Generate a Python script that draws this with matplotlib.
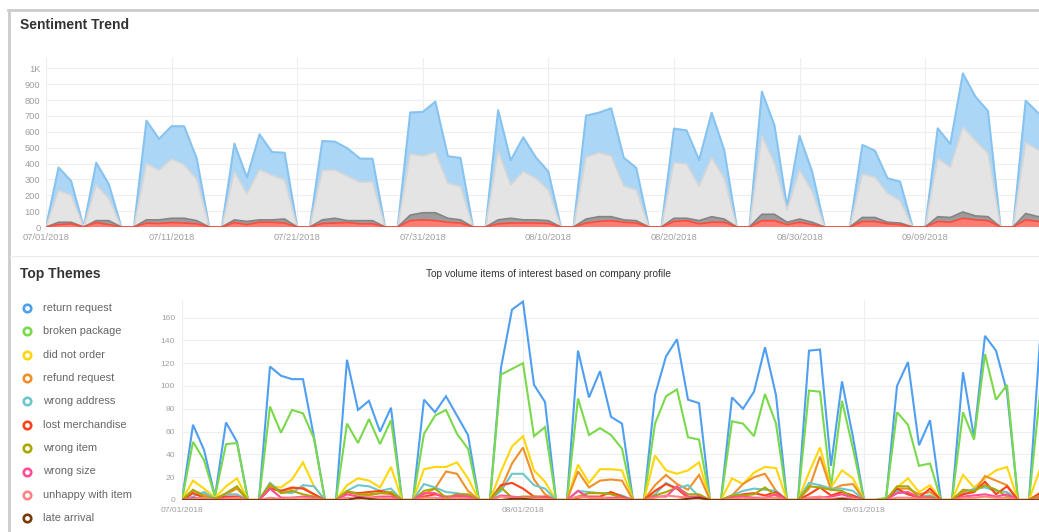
import matplotlib
matplotlib.use("Agg")
import matplotlib.pyplot as plt
import numpy as np
import pandas as pd
from matplotlib.lines import Line2D

plt.rcParams['font.family'] = ['Liberation Sans', 'DejaVu Sans']

# ---------------- Data: Sentiment Trend (stacked components, daily from 07/01/2018) ----------------
trend_start = "2018-07-01"
negative = [0, 15, 20, 0, 28, 15, 0,
            0, 25, 22, 28, 25, 20, 0,
            0, 28, 15, 30, 30, 25, 0,
            0, 22, 25, 28, 20, 20, 0,
            0, 40, 45, 40, 30, 25, 0,
            0, 20, 25, 25, 25, 22, 0,
            0, 25, 35, 40, 30, 25, 0,
            0, 35, 40, 20, 30, 30, 0,
            0, 40, 40, 15, 30, 15, 0,
            0, 0, 35, 35, 20, 15, 0,
            0, 35, 30, 55, 45, 40, 0,
            0, 45, 35, 30]
mixed = [0, 15, 10, 0, 12, 25, 0,
         0, 20, 23, 27, 30, 20, 0,
         0, 17, 20, 15, 15, 25, 0,
         0, 23, 30, 12, 20, 20, 0,
         0, 35, 45, 50, 25, 20, 0,
         0, 25, 30, 20, 20, 18, 0,
         0, 25, 30, 25, 15, 15, 0,
         0, 20, 15, 20, 35, 20, 0,
         0, 40, 40, 15, 20, 15, 0,
         0, 0, 25, 25, 10, 10, 0,
         0, 30, 30, 40, 25, 25, 0,
         0, 40, 30, 30]
neutral = [0, 200, 170, 0, 225, 140, 0,
           0, 355, 312, 373, 336, 260, 0,
           0, 304, 173, 316, 281, 246, 0,
           0, 310, 305, 280, 242, 245, 0,
           0, 385, 357, 380, 220, 210, 0,
           0, 434, 210, 304, 262, 193, 0,
           0, 389, 403, 382, 213, 193, 0,
           0, 350, 342, 218, 372, 257, 0,
           0, 494, 321, 77, 309, 193, 0,
           0, 0, 274, 253, 182, 141, 0,
           0, 368, 316, 533, 474, 399, 0,
           0, 447, 420, 390]
positive = [0, 145, 90, 0, 140, 90, 0,
            0, 270, 198, 207, 244, 132, 0,
            0, 176, 104, 223, 146, 172, 0,
            0, 187, 178, 176, 149, 145, 0,
            0, 262, 278, 320, 171, 180, 0,
            0, 257, 155, 216, 132, 116, 0,
            0, 263, 252, 301, 179, 139, 0,
            0, 215, 212, 164, 283, 178, 0,
            0, 279, 240, 21, 215, 126, 0,
            0, 0, 183, 168, 95, 120, 0,
            0, 189, 147, 340, 277, 267, 0,
            0, 264, 233, 230]
trend_yticks = [0, 100, 200, 300, 400, 500, 600, 700, 800, 900, 1000]
trend_yticklabels = ["0", "100", "200", "300", "400", "500", "600", "700", "800", "900", "1K"]
trend_xticks = ["2018-07-01", "2018-07-11", "2018-07-21", "2018-07-31", "2018-08-10",
                "2018-08-20", "2018-08-30", "2018-09-09"]

# ---------------- Data: Top Themes (daily from 07/01/2018) ----------------
themes_start = "2018-07-01"
theme_names = ["return request", "broken package", "did not order", "refund request",
               "wrong address", "lost merchandise", "wrong item", "wrong size",
               "unhappy with item", "late arrival"]
return_request = [0, 66, 44, 3, 68, 51, 0,
                  0, 117, 109, 106, 106, 55, 0,
                  0, 123, 79, 87, 60, 81, 0,
                  0, 88, 77, 91, 74, 57, 0,
                  0, 116, 167, 174, 101, 86, 0,
                  0, 131, 90, 113, 73, 67, 0,
                  0, 92, 126, 141, 88, 85, 0,
                  0, 90, 80, 95, 134, 92, 0,
                  0, 131, 132, 30, 104, 55, 0,
                  0, 0, 100, 121, 48, 70, 0,
                  0, 112, 55, 144, 131, 95, 0,
                  0, 140, 120]
broken_package = [0, 51, 35, 3, 49, 50, 0,
                  0, 82, 59, 79, 76, 54, 0,
                  0, 67, 50, 71, 49, 70, 0,
                  0, 58, 74, 79, 58, 45, 0,
                  0, 110, 115, 120, 56, 64, 0,
                  0, 89, 57, 63, 57, 45, 0,
                  0, 67, 91, 97, 55, 53, 0,
                  0, 69, 67, 56, 93, 67, 0,
                  0, 96, 95, 11, 87, 45, 0,
                  0, 2, 77, 66, 30, 32, 0,
                  0, 77, 53, 128, 88, 101, 0,
                  0, 93, 80]
did_not_order = [0, 17, 10, 2, 12, 19, 0,
                 0, 12, 11, 18, 33, 12, 0,
                 0, 13, 19, 17, 11, 29, 0,
                 0, 27, 29, 29, 33, 19, 0,
                 0, 25, 47, 56, 26, 16, 0,
                 0, 31, 15, 27, 27, 26, 0,
                 0, 39, 26, 23, 26, 33, 0,
                 0, 19, 14, 24, 29, 28, 0,
                 0, 24, 46, 11, 26, 19, 0,
                 0, 0, 11, 19, 7, 13, 0,
                 0, 22, 11, 19, 26, 29, 0,
                 0, 27, 25]
refund_request = [0, 8, 5, 1, 5, 10, 0,
                  0, 12, 8, 10, 11, 5, 0,
                  0, 7, 5, 4, 6, 5, 0,
                  0, 5, 10, 25, 23, 8, 0,
                  0, 10, 32, 46, 18, 5, 0,
                  0, 25, 11, 17, 18, 17, 0,
                  0, 13, 22, 14, 9, 22, 0,
                  0, 4, 14, 20, 23, 8, 0,
                  0, 10, 38, 9, 13, 14, 0,
                  0, 0, 10, 10, 5, 7, 0,
                  0, 7, 7, 21, 17, 13, 0,
                  0, 6, 8]
wrong_address = [0, 3, 7, 1, 5, 5, 0,
                 0, 15, 7, 6, 13, 12, 0,
                 0, 8, 13, 12, 8, 10, 0,
                 0, 14, 11, 7, 6, 4, 0,
                 0, 8, 23, 23, 13, 10, 0,
                 0, 8, 7, 6, 6, 4, 0,
                 0, 5, 15, 10, 13, 3, 0,
                 0, 4, 8, 10, 9, 8, 0,
                 0, 15, 13, 10, 10, 8, 0,
                 0, 0, 8, 5, 3, 4, 0,
                 0, 5, 10, 11, 8, 7, 0,
                 0, 5, 5]
lost_merchandise = [0, 6, 2, 1, 3, 3, 0,
                    0, 10, 8, 11, 10, 5, 0,
                    0, 7, 6, 7, 8, 6, 0,
                    0, 3, 5, 3, 3, 3, 0,
                    0, 13, 15, 10, 3, 3, 0,
                    0, 2, 3, 3, 7, 3, 0,
                    0, 8, 14, 10, 2, 3, 0,
                    0, 3, 5, 6, 4, 7, 0,
                    0, 5, 11, 4, 7, 4, 0,
                    0, 0, 10, 5, 2, 10, 0,
                    0, 5, 7, 16, 5, 12, 0,
                    0, 6, 6]
wrong_item = [0, 9, 3, 1, 6, 12, 0,
              0, 14, 6, 8, 5, 3, 0,
              0, 8, 5, 5, 6, 7, 0,
              0, 8, 10, 2, 5, 5, 0,
              0, 11, 2, 3, 3, 2, 0,
              0, 3, 6, 6, 5, 2, 0,
              0, 4, 7, 11, 5, 5, 0,
              0, 4, 4, 5, 11, 4, 0,
              0, 12, 11, 9, 8, 2, 0,
              0, 0, 12, 12, 2, 3, 0,
              0, 9, 8, 13, 9, 3, 0,
              0, 4, 4]
wrong_size = [0, 2, 1, 0, 2, 1, 0,
              0, 10, 2, 2, 3, 2, 0,
              0, 5, 3, 2, 3, 3, 0,
              0, 6, 6, 1, 4, 3, 0,
              0, 4, 3, 2, 2, 2, 0,
              0, 8, 2, 2, 2, 2, 0,
              0, 3, 3, 12, 3, 3, 0,
              0, 2, 3, 2, 2, 5, 0,
              0, 2, 2, 3, 5, 2, 0,
              0, 0, 6, 7, 2, 2, 0,
              0, 3, 4, 5, 3, 5, 0,
              0, 2, 2]
unhappy_with_item = [0, 1, 2, 0, 1, 2, 0,
                     0, 2, 1, 2, 2, 1, 0,
                     0, 2, 1, 2, 2, 1, 0,
                     0, 2, 2, 1, 2, 1, 0,
                     0, 3, 2, 2, 1, 1, 0,
                     0, 3, 2, 2, 1, 1, 0,
                     0, 2, 4, 3, 2, 1, 0,
                     0, 1, 2, 1, 2, 2, 0,
                     0, 2, 3, 1, 2, 1, 0,
                     0, 0, 2, 2, 1, 1, 0,
                     0, 2, 2, 3, 2, 2, 0,
                     0, 1, 1]
late_arrival = [0, 0, 0, 0, 0, 0, 0,
                0, 0, 0, 0, 0, 0, 0,
                0, 0, 2, 1, 0, 0, 0,
                0, 0, 0, 0, 0, 0, 0,
                0, 0, 1, 1, 0, 0, 0,
                0, 0, 0, 0, 0, 0, 0,
                0, 0, 0, 0, 1, 2, 0,
                0, 0, 0, 0, 0, 0, 0,
                0, 0, 0, 0, 1, 0, 0,
                0, 0, 0, 0, 0, 0, 0,
                0, 0, 0, 0, 0, 0, 0,
                0, 0, 0]
theme_values = [return_request, broken_package, did_not_order, refund_request, wrong_address,
                lost_merchandise, wrong_item, wrong_size, unhappy_with_item, late_arrival]
theme_colors = ["#4f9ff0", "#7ad94a", "#ffd60a", "#f0902a", "#6cc6cc",
                "#ff4219", "#a8a800", "#ff4d96", "#ff8585", "#7a3a05"]
themes_yticks = [0, 20, 40, 60, 80, 100, 120, 140, 160]
themes_xticks = ["2018-07-01", "2018-08-01", "2018-09-01"]

# ---------------- Figure ----------------
W, H = 1039, 532
fig = plt.figure(figsize=(W / 100, H / 100), dpi=100)
fig.patch.set_facecolor("white")

def fx(px):
    return px / W

def fy(py):
    return 1 - py / H

TXT = "#333333"
GRID = "#eeeeee"
TICK = "#a0a0a0"

# Frame borders
fig.add_artist(Line2D([fx(8), fx(1039)], [fy(9.5), fy(9.5)], transform=fig.transFigure,
                      color="#cccccc", lw=2.0))
fig.add_artist(Line2D([fx(9), fx(9)], [fy(9.5), fy(532)], transform=fig.transFigure,
                      color="#cccccc", lw=2.0))
fig.add_artist(Line2D([fx(10), fx(1039)], [fy(256), fy(256)], transform=fig.transFigure,
                      color="#ececec", lw=0.8))

# Titles
fig.text(fx(20), fy(25), "Sentiment Trend", fontsize=10, fontweight="bold", color=TXT,
         ha="left", va="center")
fig.text(fx(20), fy(274), "Top Themes", fontsize=10, fontweight="bold", color=TXT,
         ha="left", va="center")
fig.text(fx(549), fy(274), "Top volume items of interest based on company profile",
         fontsize=7.3, color=TXT, ha="center", va="center")

# ---------------- Sentiment Trend ----------------
px_day_top = 12.56
ax1 = fig.add_axes([fx(46), fy(227), (W - 46) / W, (227 - 58) / H])
t_dates = pd.date_range(trend_start, periods=len(positive))
neg = np.array(negative, float)
mix = np.array(mixed, float)
neu = np.array(neutral, float)
pos = np.array(positive, float)
ax1.stackplot(t_dates, neg, mix, neu, pos,
              colors=["#ff7c72", "#9c9c9c", "#e4e4e4", "#acd6f6"], lw=0, zorder=2)
c1 = neg
c2 = c1 + mix
c3 = c2 + neu
c4 = c3 + pos
ax1.plot(t_dates, c4, color="#86c3f0", lw=1.5, zorder=3)
ax1.plot(t_dates, c3, color="#d6d6d6", lw=1.2, zorder=3)
ax1.plot(t_dates, c2, color="#848484", lw=1.2, zorder=3)
ax1.plot(t_dates, c1, color="#ff4b3e", lw=1.2, zorder=3)

ax1.set_yticks(trend_yticks)
ax1.set_yticklabels(trend_yticklabels)
xt = [pd.Timestamp(d) for d in trend_xticks]
ax1.set_xticks(xt)
ax1.set_xticklabels([d.strftime("%m/%d/%Y") for d in xt])
t0 = pd.Timestamp(trend_start)
ax1.set_xlim(t0, t0 + pd.Timedelta(days=(W - 46) / px_day_top))
ax1.set_ylim(0, (227 - 58) / 0.1587)
ax1.grid(True, color=GRID, lw=0.8, zorder=0)
ax1.set_axisbelow(True)
for s in ax1.spines.values():
    s.set_visible(False)
ax1.tick_params(length=0, labelsize=6.7, labelcolor=TICK)
ax1.tick_params(axis="y", pad=4)
ax1.tick_params(axis="x", pad=4)

# ---------------- Top Themes ----------------
px_day_bot = 11.0
ax2 = fig.add_axes([fx(182), fy(500), (W - 182) / W, 200 / H])
b_dates = pd.date_range(themes_start, periods=len(return_request))
for vals, col in zip(theme_values, theme_colors):
    ax2.plot(b_dates, vals, color=col, lw=1.5, zorder=3, solid_joinstyle="miter")
ax2.set_yticks(themes_yticks)
bx = [pd.Timestamp(d) for d in themes_xticks]
ax2.set_xticks(bx)
ax2.set_xticklabels([d.strftime("%m/%d/%Y") for d in bx])
b0 = pd.Timestamp(themes_start)
ax2.set_xlim(b0, b0 + pd.Timedelta(days=(W - 182) / px_day_bot))
ax2.set_ylim(0, 200 / 1.14)
ax2.grid(True, color=GRID, lw=0.8, zorder=0)
ax2.set_axisbelow(True)
for s in ax2.spines.values():
    s.set_visible(False)
ax2.tick_params(length=0, labelsize=6.1, labelcolor=TICK)
ax2.tick_params(axis="y", pad=5)
ax2.tick_params(axis="x", pad=5)

# Legend (manual, left column)
leg_y0 = 307.7
leg_dy = 23.4
for i, (name, col) in enumerate(zip(theme_names, theme_colors)):
    y = leg_y0 + i * leg_dy
    fig.add_artist(Line2D([fx(27)], [fy(y)], transform=fig.transFigure, marker="o",
                          markersize=5.4, markerfacecolor="white", markeredgecolor=col,
                          markeredgewidth=1.9, linestyle="none"))
    fig.text(fx(43), fy(y), name, fontsize=7.9, color="#666666", ha="left", va="center")

fig.savefig("out.png", dpi=100, facecolor="white")
